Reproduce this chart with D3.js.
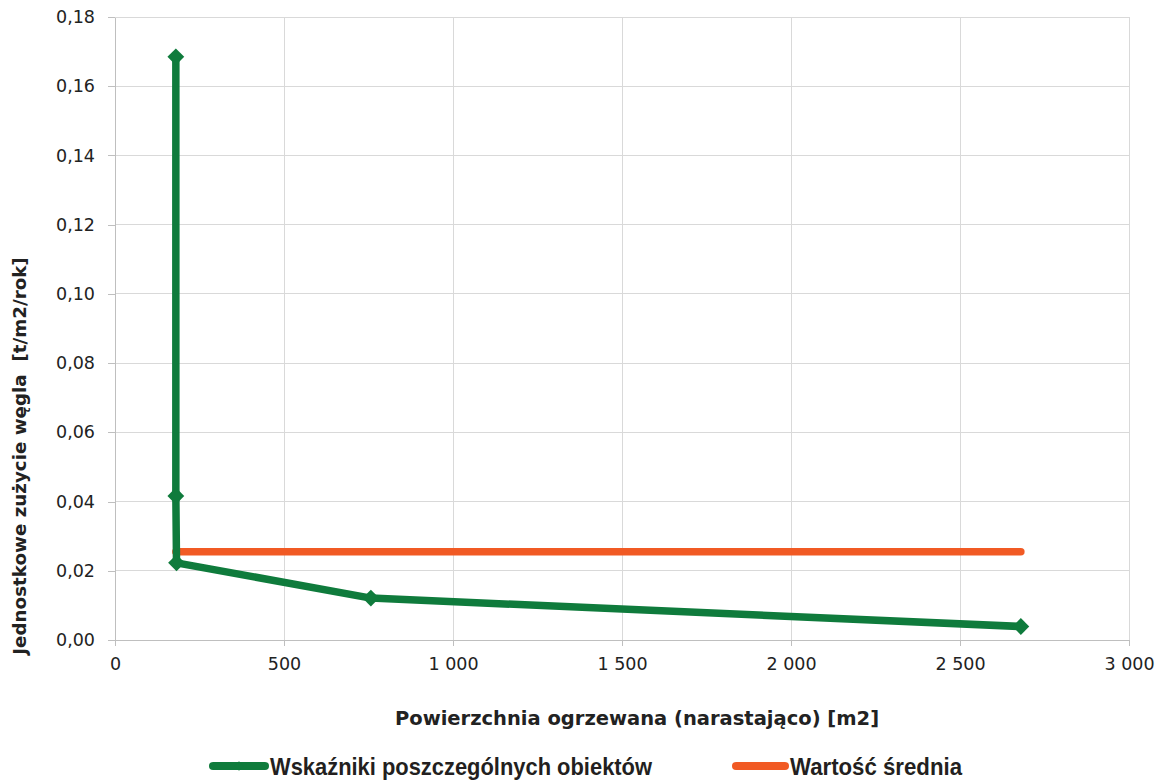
<!DOCTYPE html>
<html><head><meta charset="utf-8">
<script src="https://cdn.jsdelivr.net/npm/d3@7"></script>
<style>body{margin:0;background:#fff}svg{display:block}</style>
</head><body>
<svg id="c" width="1166" height="783"></svg>
<script>
const xValues = [180, 180, 182, 757, 2680];
const yValues = [0.1685, 0.0416, 0.0223, 0.0121, 0.0039];
const avgX = [180, 2680];
const avgY = [0.0255, 0.0255];
const xTicks = [0, 500, 1000, 1500, 2000, 2500, 3000];
const yTicks = [0, 0.02, 0.04, 0.06, 0.08, 0.10, 0.12, 0.14, 0.16, 0.18];
const seriesNames = ["Wskaźniki poszczególnych obiektów", "Wartość średnia"];
const xTitle = "Powierzchnia ogrzewana (narastająco) [m2]";
const yTitle = "Jednostkowe zużycie węgla  [t/m2/rok]";

const green = "#0f7b3c", orange = "#f15a24";
const svg = d3.select("#c");
const x = d3.scaleLinear().domain([0, 3000]).range([115, 1129]);
const y = d3.scaleLinear().domain([0, 0.18]).range([640, 17]);
const fmtX = d => d3.format(",")(d).replace(/,/g, "\u00a0");
const fmtY = d => d3.format(".2f")(d).replace(".", ",");

// grid
svg.append("g").selectAll("line").data(yTicks.filter(d => d > 0)).join("line")
  .attr("x1", x(0)).attr("x2", x(3000)).attr("y1", d => y(d)).attr("y2", d => y(d))
  .attr("stroke", "#d9d9d9").attr("stroke-width", 1).attr("shape-rendering", "crispEdges");
svg.append("g").selectAll("line").data(xTicks.filter(d => d > 0)).join("line")
  .attr("x1", d => x(d)).attr("x2", d => x(d)).attr("y1", y(0)).attr("y2", y(0.18))
  .attr("stroke", "#d9d9d9").attr("stroke-width", 1).attr("shape-rendering", "crispEdges");

// axes
const xAxis = svg.append("g").attr("transform", `translate(0,${y(0)})`)
  .call(d3.axisBottom(x).tickValues(xTicks).tickFormat(fmtX).tickSize(6).tickPadding(12).tickSizeOuter(0));
const yAxis = svg.append("g").attr("transform", `translate(${x(0)},0)`)
  .call(d3.axisLeft(y).tickValues(yTicks).tickFormat(fmtY).tickSize(7).tickPadding(13).tickSizeOuter(0));
[xAxis, yAxis].forEach(a => {
  a.select(".domain").attr("stroke", "#bfbfbf").attr("shape-rendering", "crispEdges");
  a.selectAll(".tick line").attr("stroke", "#bfbfbf").attr("shape-rendering", "crispEdges");
  a.selectAll("text").attr("font-family", "'DejaVu Sans', Verdana, sans-serif")
    .attr("font-size", 17.5).attr("fill", "#222");
});

// average line
const line = d3.line().x(d => x(d[0])).y(d => y(d[1]));
svg.append("path").datum(avgX.map((v, i) => [v, avgY[i]])).attr("d", line)
  .attr("fill", "none").attr("stroke", orange).attr("stroke-width", 7.5).attr("stroke-linecap", "round");

// series line
const pts = xValues.map((v, i) => [v, yValues[i]]);
svg.append("path").datum(pts).attr("d", line)
  .attr("fill", "none").attr("stroke", green).attr("stroke-width", 7.5).attr("stroke-linejoin", "round");
const diamond = d3.symbol().type(d3.symbolDiamond2).size(180);
svg.append("g").selectAll("path").data(pts).join("path")
  .attr("d", diamond).attr("transform", d => `translate(${x(d[0])},${y(d[1])})`)
  .attr("fill", green);

// titles
svg.append("text").attr("x", 637).attr("y", 725).attr("text-anchor", "middle")
  .attr("font-family", "'DejaVu Sans', Verdana, sans-serif").attr("font-weight", "bold")
  .attr("font-size", 19.5).attr("fill", "#222").text(xTitle);
svg.append("text").attr("transform", "translate(26,456) rotate(-90)").attr("text-anchor", "middle")
  .attr("font-family", "'DejaVu Sans', Verdana, sans-serif").attr("font-weight", "bold")
  .attr("font-size", 18.3).attr("fill", "#222").style("white-space", "pre").text(yTitle);

// legend
const leg = svg.append("g");
const legItems = [
  {name: seriesNames[0], color: green, x1: 213, x2: 265, tx: 270, len: 382, marker: true},
  {name: seriesNames[1], color: orange, x1: 736, x2: 785, tx: 790, len: 172, marker: false}
];
legItems.forEach(it => {
  leg.append("line").attr("x1", it.x1).attr("x2", it.x2).attr("y1", 766).attr("y2", 766)
    .attr("stroke", it.color).attr("stroke-width", 8).attr("stroke-linecap", "round");
  if (it.marker) leg.append("path").attr("d", d3.symbol().type(d3.symbolDiamond2).size(60))
    .attr("transform", `translate(${(it.x1 + it.x2) / 2},766)`).attr("fill", it.color);
  leg.append("text").attr("x", it.tx).attr("y", 775)
    .attr("font-family", "'Liberation Sans', Arial, sans-serif")
    .attr("font-weight", "bold").attr("font-size", 24).attr("fill", "#231f20")
    .attr("textLength", it.len).attr("lengthAdjust", "spacingAndGlyphs").text(it.name);
});
</script>
</body></html>
